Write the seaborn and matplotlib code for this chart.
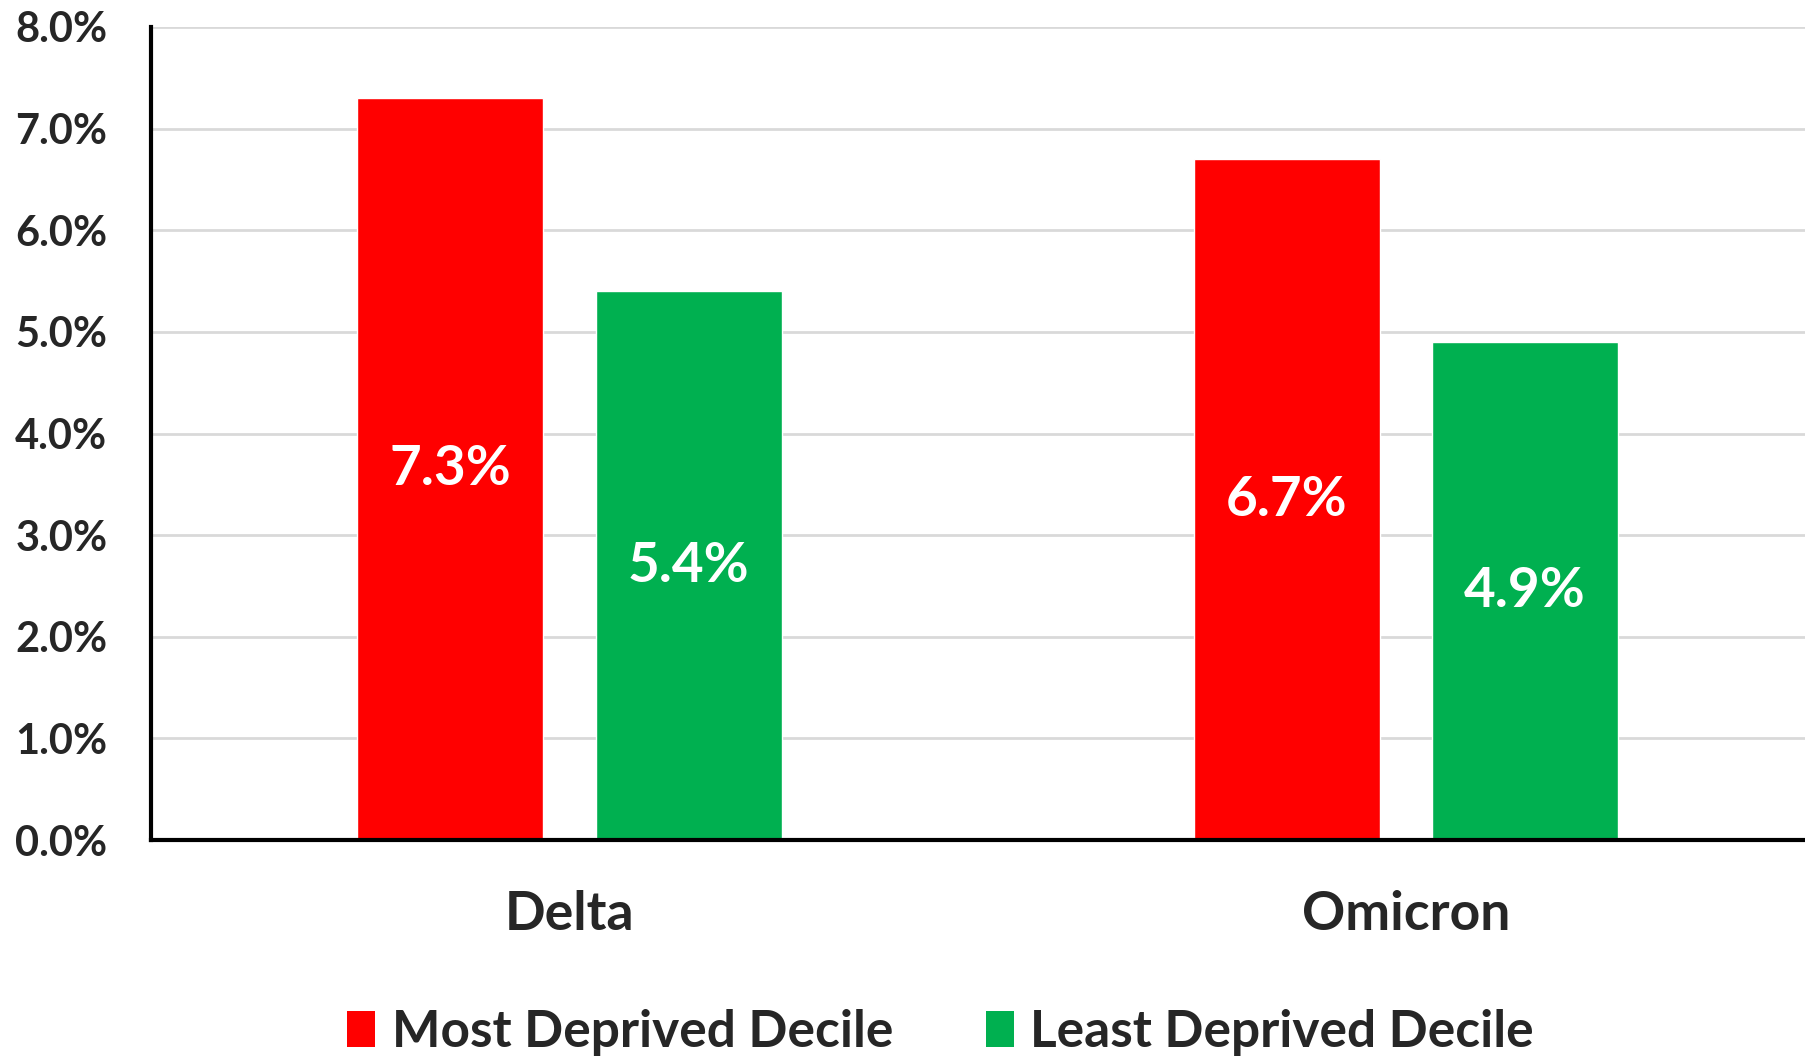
import pandas as pd
import matplotlib
matplotlib.use("Agg")
import matplotlib.pyplot as plt
import seaborn as sns
from matplotlib.patches import Patch

# data
variants = ["Delta", "Omicron"]
groups = ["Most Deprived Decile", "Least Deprived Decile"]
most_deprived = [7.3, 6.7]
least_deprived = [5.4, 4.9]
y_ticks = [0, 1, 2, 3, 4, 5, 6, 7, 8]
colors = ["#FF0000", "#00B050"]

df = pd.DataFrame({
    "variant": variants * 2,
    "group": [groups[0]] * 2 + [groups[1]] * 2,
    "rate": most_deprived + least_deprived,
})

sns.set_style("white")
plt.rcParams["font.family"] = ["Lato", "DejaVu Sans"]
plt.rcParams["font.weight"] = "bold"

fig = plt.figure(figsize=(18.05, 10.58), dpi=100)
ax = fig.add_axes([0.0837, 0.206, 0.9163, 0.7685])

sns.barplot(data=df, x="variant", y="rate", hue="group", order=variants,
            hue_order=groups, palette=colors, width=0.57, gap=0.22,
            saturation=1, legend=False, ax=ax)

# value labels in the middle of each bar
for cont in ax.containers:
    ax.bar_label(cont, labels=[f"{b.get_height():.1f}%" for b in cont],
                 label_type="center", color="white", fontsize=39.5,
                 fontweight="bold")

ax.set_ylim(0, 8)
ax.set_xlim(-0.5, 1.477)
ax.set_yticks(y_ticks)
ax.set_yticklabels([f"{v:.1f}%" for v in y_ticks], fontsize=30, fontweight="bold")
ax.set_xticks(range(len(variants)))
ax.set_xticklabels(variants, fontsize=38.5, fontweight="bold")
ax.tick_params(axis="y", length=0, pad=31.5)
ax.tick_params(axis="x", length=0, pad=36)
ax.set_xlabel("")
ax.set_ylabel("")

ax.yaxis.grid(True, color="#d9d9d9", linewidth=2)
ax.set_axisbelow(True)
for side in ["top", "right"]:
    ax.spines[side].set_visible(False)
for side in ["left", "bottom"]:
    ax.spines[side].set_color("black")
    ax.spines[side].set_linewidth(3)

handles = [Patch(facecolor=c, edgecolor="none") for c in colors]
fig.legend(handles, groups, loc="center", bbox_to_anchor=(0.521, 0.024),
           ncol=2, frameon=False, handlelength=0.55,
           handleheight=0.7, handletextpad=0.32, columnspacing=1.8,
           prop={"weight": "bold", "size": 37})

fig.savefig("out.png", dpi=100, facecolor="white")
